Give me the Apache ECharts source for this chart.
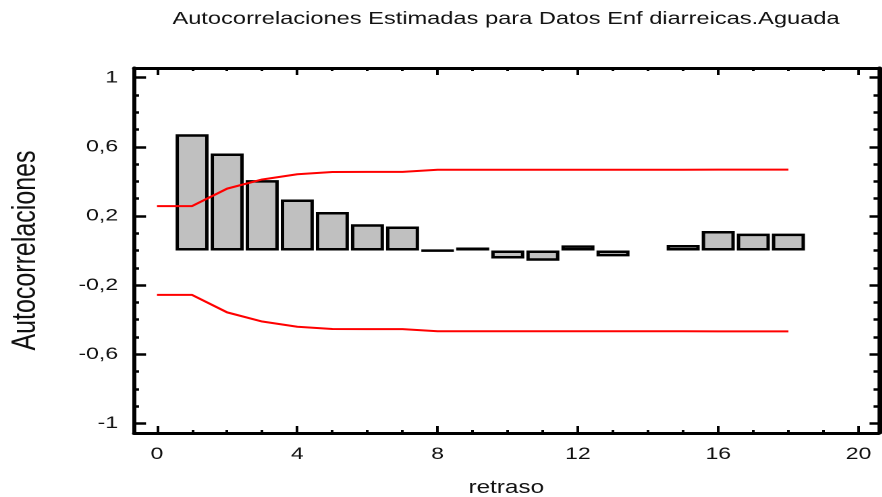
<!DOCTYPE html>
<html>
<head>
<meta charset="utf-8">
<script src="https://cdn.jsdelivr.net/npm/echarts@6/dist/echarts.min.js"></script>
<style>
html,body{margin:0;padding:0;background:#fff;overflow:hidden}
/* the reference picture is stretched horizontally; the chart is drawn narrower and stretched the same way */
#c{width:653.33px;height:497px;transform:scaleX(1.35);transform-origin:0 0}
</style>
</head>
<body>
<div id="c"></div>
<script>
// ---- data ----
const lags = [1, 2, 3, 4, 5, 6, 7, 8, 9, 10, 11, 12, 13, 14, 15, 16, 17, 18];
const acf = [0.673, 0.561, 0.407, 0.295, 0.223, 0.152, 0.139, -0.002, 0.017, -0.046, -0.059, 0.030, -0.034, null, 0.032, 0.113, 0.098, 0.098];
const limitLags = [0, 1, 2, 3, 4, 5, 6, 7, 8, 9, 10, 11, 12, 13, 14, 15, 16, 17, 18];
const upperLimit = [0.257, 0.257, 0.358, 0.411, 0.441, 0.454, 0.455, 0.455, 0.467, 0.467, 0.467, 0.467, 0.467, 0.467, 0.467, 0.467, 0.468, 0.468, 0.468];
const lowerLimit = [-0.257, -0.257, -0.358, -0.411, -0.441, -0.454, -0.455, -0.455, -0.467, -0.467, -0.467, -0.467, -0.467, -0.467, -0.467, -0.467, -0.468, -0.468, -0.468];
const xMajorTicks = [0, 4, 8, 12, 16, 20];
const xMinorTicks = [0, 1, 2, 3, 4, 5, 6, 7, 8, 9, 10, 11, 12, 13, 14, 15, 16, 17, 18, 19, 20];
const yMajorTicks = [-1, -0.6, -0.2, 0.2, 0.6, 1];
const yMinorTicks = [-1, -0.9, -0.8, -0.7, -0.6, -0.5, -0.4, -0.3, -0.2, -0.1, 0, 0.1, 0.2, 0.3, 0.4, 0.5, 0.6, 0.7, 0.8, 0.9, 1];
const titleText = 'Autocorrelaciones Estimadas para Datos Enf diarreicas.Aguada';
const xName = 'retraso';
const yName = 'Autocorrelaciones';

const S = 1.35;                 // horizontal stretch of the page
const px = v => v / S;          // screen x-size -> drawing x-size
const FONT = '"Liberation Sans", Arial, sans-serif';
const XMIN = -0.655, XMAX = 20.57, YMIN = -1.056, YMAX = 1.056;

function xAx(pos, ticks, len, showLine, showLabel, name) {
  return {
    type: 'value', position: pos, min: XMIN, max: XMAX,
    name: name || '', nameLocation: 'middle', nameGap: 46,
    nameTextStyle: {fontFamily: FONT, fontSize: 18, color: '#111'},
    axisLine: {show: showLine, onZero: false, lineStyle: {color: '#000', width: 3}},
    axisTick: {show: true, inside: true, length: len, customValues: ticks, lineStyle: {color: '#000', width: 2}},
    axisLabel: {show: showLabel, customValues: xMajorTicks, margin: 13, fontFamily: FONT, fontSize: 17, color: '#111'},
    splitLine: {show: false}
  };
}
function yAx(pos, ticks, len, showLine, showLabel, name) {
  return {
    type: 'value', position: pos, min: YMIN, max: YMAX,
    name: name || '', nameLocation: 'middle', nameGap: px(91),
    nameTextStyle: {fontFamily: FONT, fontSize: 25, color: '#111'},
    axisLine: {show: showLine, onZero: false, lineStyle: {color: '#000', width: 3}},
    axisTick: {show: true, inside: true, length: len, customValues: ticks, lineStyle: {color: '#000', width: 2.5}},
    axisLabel: {show: showLabel, customValues: yMajorTicks, margin: px(16), fontFamily: FONT, fontSize: 17, color: '#111',
      formatter: v => String(v).replace('.', ',')},
    splitLine: {show: false}
  };
}

const chart = echarts.init(document.getElementById('c'), null, {devicePixelRatio: 2});
chart.setOption({
  animation: false,
  backgroundColor: '#fff',
  graphic: [{
    type: 'text', x: px(506), y: 19,
    style: {text: titleText, font: '17.5px ' + FONT, fill: '#111', textAlign: 'center', textVerticalAlign: 'middle'}
  }],
  grid: {left: px(134), right: px(3), top: 68, bottom: 64, outerBoundsMode: 'none', containLabel: false},
  xAxis: [
    xAx('bottom', xMajorTicks, 7, true, true, xName),
    xAx('bottom', xMinorTicks, 3, false, false),
    xAx('top', xMajorTicks, 7, true, false),
    xAx('top', xMinorTicks, 3, false, false)
  ],
  yAxis: [
    yAx('left', yMajorTicks, px(12), true, true, yName),
    yAx('left', yMinorTicks, px(5), false, false),
    yAx('right', yMajorTicks, px(9), true, false),
    yAx('right', yMinorTicks, px(5), false, false)
  ],
  series: [
    {
      type: 'bar', xAxisIndex: 0, yAxisIndex: 0, barWidth: px(33), z: 2,
      itemStyle: {color: '#c0c0c0', borderColor: '#000', borderWidth: 2.5},
      data: lags.map((l, i) => [l, acf[i]])
    },
    {
      type: 'line', xAxisIndex: 0, yAxisIndex: 0, symbol: 'none', z: 5,
      lineStyle: {color: '#ff0000', width: 2},
      data: limitLags.map((l, i) => [l, upperLimit[i]])
    },
    {
      type: 'line', xAxisIndex: 0, yAxisIndex: 0, symbol: 'none', z: 5,
      lineStyle: {color: '#ff0000', width: 2},
      data: limitLags.map((l, i) => [l, lowerLimit[i]])
    }
  ]
});
</script>
</body>
</html>
